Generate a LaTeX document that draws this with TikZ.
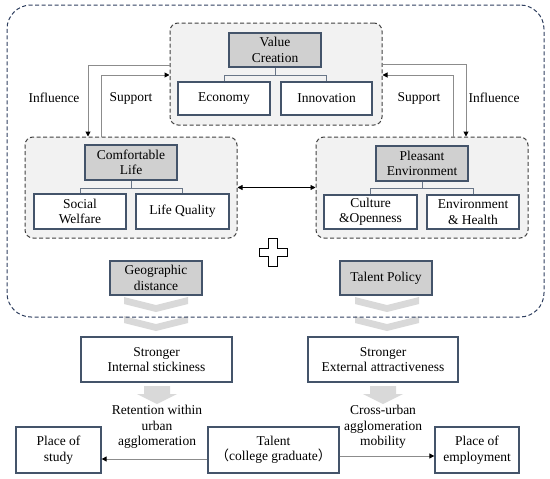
\documentclass[tikz,border=0pt]{standalone}
\usepackage{fontspec}
\setmainfont{Liberation Serif}
\newfontfamily\cjk{Noto Sans CJK SC}
\usetikzlibrary{arrows.meta}
\definecolor{boxc}{HTML}{44546A}
\definecolor{hdrfill}{HTML}{D0D0D0}
\definecolor{grpfill}{HTML}{F2F2F2}
\definecolor{grpc}{HTML}{404040}
\definecolor{outerc}{HTML}{2F3F5F}
\definecolor{connc}{HTML}{8C8C8C}
\definecolor{chevc}{HTML}{D9D9D9}
\begin{document}
\begin{tikzpicture}[x=1pt,y=-1pt,
  every node/.style={font=\fontsize{13.5}{15.5}\selectfont, align=center, inner sep=0pt},
  grp/.style={draw=grpc, dashed, dash pattern=on 4pt off 2.5pt, fill=grpfill, rounded corners=8pt, line width=1pt, minimum width=212pt},
  hdr/.style={draw=boxc, fill=hdrfill, line width=1.3pt, minimum width=92pt, minimum height=34pt},
  sub/.style={draw=boxc, fill=white, line width=1.3pt, minimum width=92pt, minimum height=34pt},
  tree/.style={draw=boxc!80, line width=0.7pt},
  conn/.style={draw=connc, line width=1pt, -{Triangle[width=5pt,length=5pt,color=black]}},
  chev/.style={fill=chevc, draw=none},
  outerbox/.style={draw=outerc, dashed, dash pattern=on 4pt off 2.5pt, line width=1pt, rounded corners=24pt, minimum width=537pt, minimum height=312pt},
  lbl/.style={}
]
\useasboundingbox (0,0) rectangle (550,479);

% chevrons (behind outer border)
\foreach \cx in {156,387}{
  \fill[chevc] (\cx-32,297) -- (\cx,305) -- (\cx+32,297) -- (\cx+32,304) -- (\cx,312) -- (\cx-32,304) -- cycle;
  \fill[chevc] (\cx-32,316) -- (\cx,324) -- (\cx+32,316) -- (\cx+32,323) -- (\cx,331) -- (\cx-32,323) -- cycle;
}

\node[outerbox] (outer) at (275.5,161) {};

% groups
\node[grp, minimum height=102pt] (vcg) at (276,74) {};
\node[grp, minimum height=101pt] (clg) at (131,187.5) {};
\node[grp, minimum height=101pt] (peg) at (422,187.5) {};

% headers
\node[hdr] (vc) at (275,50) {Value\\Creation};
\node[hdr, minimum height=35pt] (cl) at (131,162.5) {Comfortable\\Life};
\node[hdr, minimum height=35pt] (pe) at (422,163.5) {Pleasant\\Environment};

% sub boxes
\node[sub, minimum height=33pt] (eco) at (224,98.5) {Economy};
\node[sub, minimum height=33pt, minimum width=91pt] (inn) at (326.5,98.5) {Innovation};
\node[sub, minimum height=35pt] (sw) at (80,211.5) {Social\\Welfare};
\node[sub, minimum height=35pt, minimum width=93pt] (lq) at (182.5,211.5) {Life Quality};
\node[sub, minimum height=34pt, minimum width=93pt] (co) at (370.5,212) {Culture\\\&Openness};
\node[sub, minimum height=34pt] (eh) at (473,212) {Environment\\\& Health};

% tree connectors
\coordinate (vct) at ([yshift=-8pt]vc.south);
\draw[tree] (vc.south) -- (vct);
\draw[tree] (eco.north) |- (vct) -| (inn.north);
\coordinate (clt) at ([yshift=-8pt]cl.south);
\draw[tree] (cl.south) -- (clt);
\draw[tree] (sw.north) |- (clt) -| (lq.north);
\coordinate (pet) at ([yshift=-7pt]pe.south);
\draw[tree] (pe.south) -- (pet);
\draw[tree] (co.north) |- (pet) -| (eh.north);

% influence / support
\draw[conn] ([yshift=9pt]vcg.west) -| ([xshift=-43pt]clg.north);
\draw[conn] ([xshift=-30pt]clg.north) |- ([yshift=-1pt]vcg.west);
\draw[conn] ([yshift=10pt]vcg.east) -| ([xshift=44pt]peg.north);
\draw[conn] ([xshift=31pt]peg.north) |- ([yshift=-1pt]vcg.east);
\node[lbl] (inf1) at (54,98) {Influence};
\node[lbl] (sup1) at (131,98) {Support};
\node[lbl] (sup2) at (419,98) {Support};
\node[lbl] (inf2) at (494,98) {Influence};

% double arrow
\draw[black, line width=0.8pt, {Triangle[width=5pt,length=5pt]}-{Triangle[width=5pt,length=5pt]}] (clg.east) -- (peg.west);

% plus sign
\draw[black, line width=0.9pt, fill=white] (268.5,238) -- (277.5,238) -- (277.5,248) -- (287,248) -- (287,256) -- (277.5,256) -- (277.5,266) -- (268.5,266) -- (268.5,256) -- (259,256) -- (259,248) -- (268.5,248) -- cycle;

% factor boxes
\node[hdr] (geo) at (156,278) {Geographic\\distance};
\node[hdr] (tp) at (386,278) {Talent Policy};

% stronger boxes
\node[sub, minimum width=151pt, minimum height=45pt] (int) at (156.5,359.5) {Stronger\\Internal stickiness};
\node[sub, minimum width=150pt, minimum height=45pt] (ext) at (383,359.5) {Stronger\\External attractiveness};

% block arrows
\foreach \cx in {157,383}{
  \fill[chevc] (\cx-13,386) -- (\cx+13,386) -- (\cx+13,394) -- (\cx+20,394) -- (\cx,404) -- (\cx-20,394) -- (\cx-13,394) -- cycle;
}

% labels
\node[lbl] (ret) at (157,427) {Retention within\\urban\\agglomeration};
\node[lbl] (cross) at (383,427) {Cross-urban\\agglomeration\\mobility};

% bottom boxes
\node[sub, minimum width=85pt, minimum height=46pt] (study) at (58.5,450) {Place of\\study};
\node[sub, minimum width=131pt, minimum height=46pt] (talent) at (273.5,450) {Talent\\{\cjk （}college graduate{\cjk ）}};
\node[sub, minimum width=84pt, minimum height=46pt] (emp) at (477,450) {Place of\\employment};

\draw[conn] ([yshift=-9pt]talent.west) -- ([yshift=-9pt]study.east);
\draw[conn] ([yshift=-6pt]talent.east) -- ([yshift=-6pt]emp.west);
\end{tikzpicture}
\end{document}
